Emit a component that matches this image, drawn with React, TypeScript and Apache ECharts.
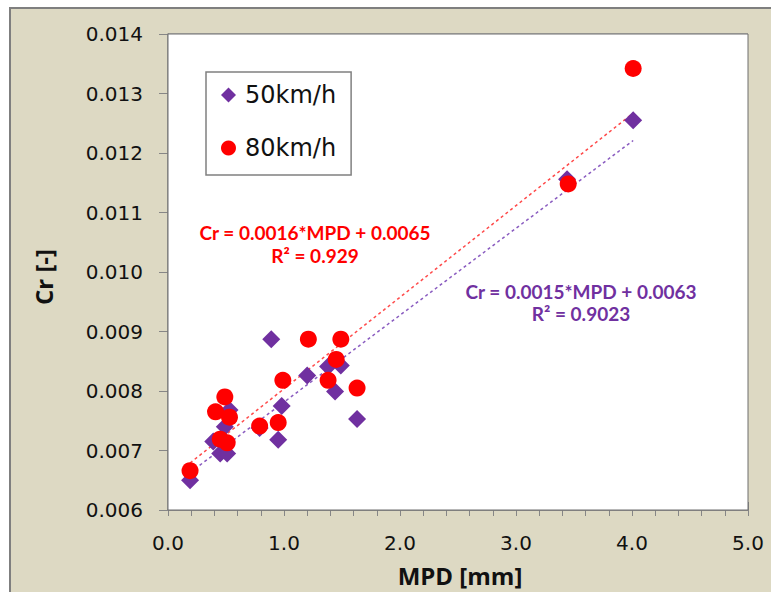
import React, { useEffect, useRef } from "react";
import * as echarts from "echarts";

// 50 km/h measurements
const mpd50 = [0.19, 0.39, 0.45, 0.49, 0.51, 0.53, 0.79, 0.89, 0.95, 0.98, 1.2, 1.38, 1.44, 1.49, 1.63, 3.44, 4.01];
const cr50 = [0.0065, 0.00715, 0.00695, 0.0074, 0.00695, 0.00768, 0.00738, 0.00887, 0.00718, 0.00775, 0.00826, 0.00841, 0.00799, 0.00843, 0.00753, 0.01156, 0.01255];
// 80 km/h measurements
const mpd80 = [0.19, 0.41, 0.45, 0.49, 0.51, 0.53, 0.79, 0.95, 0.99, 1.21, 1.38, 1.45, 1.49, 1.63, 3.45, 4.01];
const cr80 = [0.00666, 0.00765, 0.00719, 0.0079, 0.00713, 0.00756, 0.00741, 0.00747, 0.00818, 0.00887, 0.00818, 0.00853, 0.00887, 0.00805, 0.01148, 0.01342];
// trend line end points
const trendX = [0.19, 4.01];
const trend50Y = [0.00663, 0.01221];
const trend80Y = [0.00679, 0.01267];

const seriesNames = ["50km/h", "80km/h"];
const eq80 = ["Cr = 0.0016*MPD + 0.0065", "R² = 0.929"];
const eq50 = ["Cr = 0.0015*MPD + 0.0063", "R² = 0.9023"];
const xTitle = "MPD [mm]";
const yTitle = "Cr [-]";

const PURPLE = "#7030a0";
const RED = "#ff0000";
const TICK_FONT = "DejaVu Sans";
const EQ_FONT = "Lato";

export default function App() {
  const ref = useRef<HTMLDivElement>(null);
  useEffect(() => {
    if (!ref.current) return;
    const chart = echarts.init(ref.current, undefined, { renderer: "svg" });
    const pts = (xs: number[], ys: number[]) => xs.map((x, i) => [x, ys[i]]);
    const eqText = (x: number, y: number, text: string, color: string) => ({
      type: "text",
      x,
      y,
      z: 50,
      style: {
        text,
        fill: color,
        fontSize: 19,
        fontWeight: "bold",
        fontFamily: EQ_FONT,
        align: "center",
        verticalAlign: "middle",
      },
    });
    chart.setOption({
      animation: false,
      backgroundColor: "#ffffff",
      grid: {
        left: 168,
        top: 34,
        width: 580,
        height: 476,
        show: true,
        backgroundColor: "#ffffff",
        borderColor: "#6e6e6e",
        borderWidth: 1,
        z: 1,
      },
      xAxis: [
        {
          type: "value",
          min: 0,
          max: 5,
          interval: 1,
          position: "bottom",
          axisLine: { show: true, lineStyle: { color: "#868686", width: 1.5 } },
          axisTick: { show: true, inside: false, length: 6, lineStyle: { color: "#868686" } },
          minorTick: { show: true, splitNumber: 5, length: 6, lineStyle: { color: "#868686" } },
          splitLine: { show: false },
          axisLabel: {
            formatter: (v: number) => v.toFixed(1),
            fontSize: 20,
            fontFamily: TICK_FONT,
            color: "#111",
            margin: 23,
          },
        },
        {
          type: "value",
          min: 0,
          max: 5,
          interval: 1,
          position: "bottom",
          axisLine: { show: false },
          axisTick: { show: true, inside: true, length: 8, lineStyle: { color: "#868686" } },
          splitLine: { show: false },
          axisLabel: { show: false },
        },
      ],
      yAxis: [
        {
          type: "value",
          min: 0.006,
          max: 0.014,
          interval: 0.001,
          axisLine: { show: true, lineStyle: { color: "#868686", width: 1.5 } },
          axisTick: { show: true, inside: false, length: 9, lineStyle: { color: "#868686" } },
          splitLine: { show: true, lineStyle: { color: "#a6a6a6", width: 1.5 } },
          axisLabel: {
            formatter: (v: number) => v.toFixed(3),
            fontSize: 20,
            fontFamily: TICK_FONT,
            color: "#111",
            margin: 25,
          },
        },
        {
          type: "value",
          min: 0.006,
          max: 0.014,
          interval: 0.001,
          position: "left",
          axisLine: { show: false },
          axisTick: { show: true, inside: true, length: 1, lineStyle: { color: "#868686" } },
          minorTick: { show: true, splitNumber: 5, length: 6, lineStyle: { color: "#868686" } },
          splitLine: { show: false },
          axisLabel: { show: false },
        },
      ],
      legend: {
        orient: "vertical",
        left: 206,
        top: 72,
        padding: [11, 15, 15, 15],
        itemGap: 29,
        itemWidth: 15,
        itemHeight: 15,
        backgroundColor: "#ffffff",
        borderColor: "#808080",
        borderWidth: 1.5,
        z: 20,
        textStyle: {
          fontSize: 24,
          fontFamily: TICK_FONT,
          color: "#111",
          padding: [0, 0, 0, 4],
        },
        data: [
          { name: seriesNames[0], icon: "diamond" },
          { name: seriesNames[1], icon: "circle" },
        ],
      },
      graphic: [
        {
          type: "rect",
          z: -100,
          shape: { x: 10, y: 8, width: 800, height: 620 },
          style: { fill: "#ddd9c3", stroke: "#7f7f7f", lineWidth: 2 },
        },
        eqText(315, 232, eq80[0], RED),
        eqText(315, 255, eq80[1], RED),
        eqText(581, 291, eq50[0], PURPLE),
        eqText(581, 313, eq50[1], PURPLE),
        {
          type: "text",
          x: 460,
          y: 575,
          z: 50,
          style: {
            text: xTitle,
            fill: "#111",
            fontSize: 24,
            fontWeight: "bold",
            fontFamily: "Open Sans",
            align: "center",
            verticalAlign: "middle",
          },
        },
        {
          type: "text",
          x: 43,
          y: 277,
          rotation: Math.PI / 2,
          z: 50,
          style: {
            text: yTitle,
            fill: "#111",
            fontSize: 24,
            fontWeight: "bold",
            fontFamily: "Open Sans",
            align: "center",
            verticalAlign: "middle",
          },
        },
      ],
      series: [
        {
          name: "trend50",
          type: "line",
          data: pts(trendX, trend50Y),
          symbol: "none",
          silent: true,
          z: 2,
          lineStyle: { color: "#8a5cc0", width: 1.5, type: [3, 3] },
        },
        {
          name: "trend80",
          type: "line",
          data: pts(trendX, trend80Y),
          symbol: "none",
          silent: true,
          z: 2,
          lineStyle: { color: "#ff4a4a", width: 1.5, type: [3, 3] },
        },
        {
          name: seriesNames[0],
          type: "scatter",
          data: pts(mpd50, cr50),
          symbol: "diamond",
          symbolSize: 18,
          z: 3,
          itemStyle: { color: PURPLE, opacity: 1 },
        },
        {
          name: seriesNames[1],
          type: "scatter",
          data: pts(mpd80, cr80),
          symbol: "circle",
          symbolSize: 17,
          z: 4,
          itemStyle: { color: RED, opacity: 1 },
        },
      ],
    });
    return () => chart.dispose();
  }, []);
  return (
    <div
      ref={ref}
      style={{ position: "fixed", left: 0, top: 0, width: 771, height: 592 }}
    />
  );
}
